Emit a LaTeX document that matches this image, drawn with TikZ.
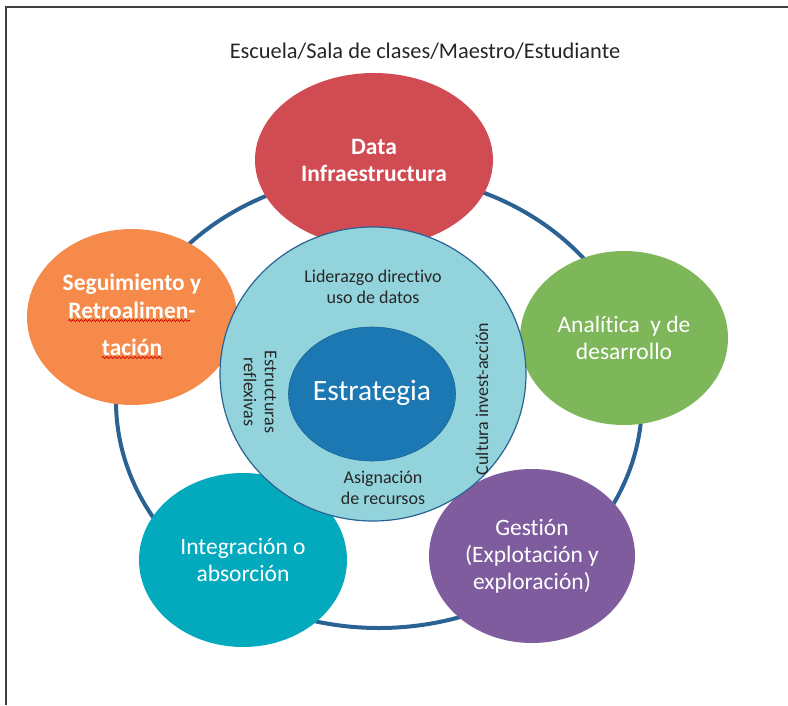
\documentclass[tikz,border=0pt]{standalone}
\usepackage{fontspec}
\setmainfont{Carlito}[Ligatures=NoCommon]
\usetikzlibrary{shapes.geometric, calc, decorations.pathmorphing}
\definecolor{redF}{HTML}{D14B53}
\definecolor{orangeF}{HTML}{F58A4B}
\definecolor{greenF}{HTML}{7EB65A}
\definecolor{tealF}{HTML}{03AABD}
\definecolor{purpleF}{HTML}{7E5C9D}
\definecolor{lightF}{HTML}{93D4DC}
\definecolor{innerF}{HTML}{1C78B2}
\definecolor{ringC}{HTML}{2B6294}
\tikzset{blob/.style={ellipse,draw=none,text=white,align=center,inner sep=0pt,font=\fontsize{23.5}{27}\selectfont},
         blobbold/.style={blob,font=\fontsize{23.5}{27}\selectfont\bfseries},
         segline/.style={text=white,inner sep=0pt,anchor=base,font=\fontsize{23.5}{27}\selectfont\bfseries},
         inlabel/.style={text=black!85,align=center,inner sep=0pt,font=\fontsize{18}{21}\selectfont},
         ring/.style={draw=ringC,line width=4pt},
         squiggle/.style={draw=red!80!black,line width=0.7pt,decorate,decoration={snake,amplitude=1pt,segment length=4pt}}}

\begin{document}
\begin{tikzpicture}[x=1pt,y=-1pt]
        \useasboundingbox (0,0) rectangle (788,705);
        \draw[line width=1.5pt,black!75] (6,705) -- (6,7) -- (788,7);
        \node[text=black!85,font=\fontsize{22.4}{26}\selectfont](titulo)at(425,51){Escuela/Sala de clases/Maestro/Estudiante};
        % anillo de fondo
        \coordinate (ringc) at (379,401);
        \draw[ring] (ringc) ellipse [x radius=263pt, y radius=227pt];
        \node[blobbold,fill=redF,minimum width=238pt,minimum height=174pt](data)at(374,160){Data\\Infraestructura};
        \node[blob,fill=orangeF,minimum width=210pt,minimum height=176pt](seg)at(132,317){};
        \node[segline](seg1)at(132,290){Seguimiento y};
        \node[segline](seg2)at(132,318){Retroalimen-};
        \node[segline](seg3)at(132,355){tación};
        \draw[squiggle] ([yshift=-2.5pt]seg2.base west) -- ([xshift=-6pt,yshift=-2.5pt]seg2.base east);
        \draw[squiggle] ([yshift=-2.5pt]seg3.base west) -- ([yshift=-2.5pt]seg3.base east);
        \node[blob,fill=greenF,minimum width=208pt,minimum height=174pt](anal)at(624,338){Analítica~ y de\\desarrollo};
        \node[blob,fill=tealF,minimum width=208pt,minimum height=174pt](integ)at(243,560){Integración o\\absorción};
        \node[blob,fill=purpleF,minimum width=206pt,minimum height=174pt](gest)at(532,556){Gestión\\(Explotación y\\exploración)};
        % nucleo
        \node[ellipse,fill=lightF,draw=ringC,line width=1.2pt,minimum width=306pt,minimum height=294pt](nucleo)at(373,374){};
        \node[blob,fill=innerF,draw=innerF!85!black,line width=0.6pt,minimum width=164pt,minimum height=134pt,font=\fontsize{29.5}{32}\selectfont](estr)at(372,394){\raisebox{8pt}{Estrategia}};
        \node[inlabel](lider)at(373,287){Liderazgo directivo\\uso de datos};
        \node[inlabel,rotate=-90](estruc)at(260,392){Estructuras\\reflexivas};
        \node[inlabel,rotate=90](cultu)at(482,399){Cultura invest-acción};
        \node[inlabel](asig)at(383,488){Asignación\\de recursos};
    \end{tikzpicture}
\end{document}
